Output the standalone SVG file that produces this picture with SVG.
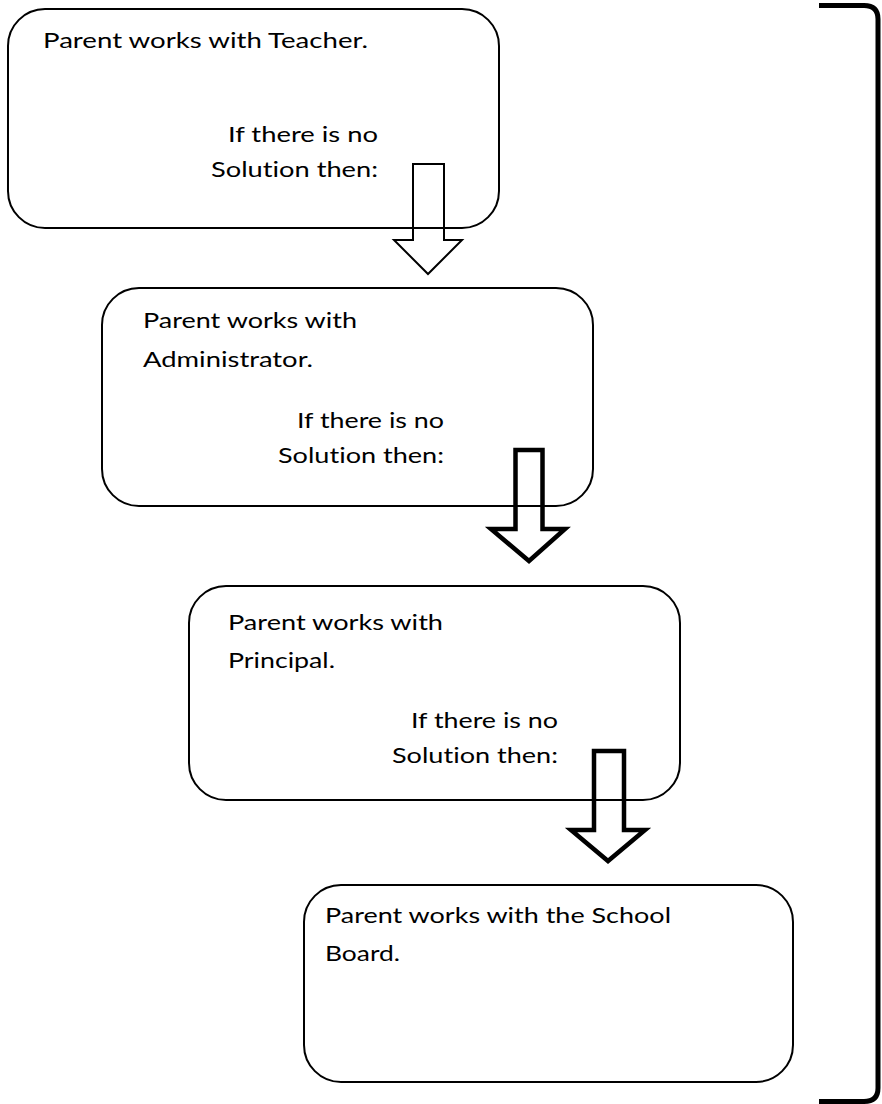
<svg xmlns="http://www.w3.org/2000/svg" width="882" height="1104" viewBox="0 0 882 1104">
<style>
.box{fill:#fff;stroke:#000;stroke-width:2}
.t{font-family:Lato,"Open Sans",sans-serif;font-size:22px;fill:#000;font-variant-ligatures:none}
.arr{fill:none;stroke:#000;stroke-linejoin:miter}
.br{fill:none;stroke:#000;stroke-width:5}
</style>
<rect width="882" height="1104" fill="#fff"/>
<g id="node1">
<rect class="box" x="8" y="9" width="491" height="219" rx="37"/>
<text class="t" x="43" y="48" textLength="325" lengthAdjust="spacingAndGlyphs">Parent works with Teacher.</text>
<text class="t" x="228" y="142" textLength="150" lengthAdjust="spacingAndGlyphs">If there is no</text>
<text class="t" x="211" y="177" textLength="167" lengthAdjust="spacingAndGlyphs">Solution then:</text>
</g>
<g id="node2">
<rect class="box" x="102" y="288" width="491" height="218" rx="37"/>
<text class="t" x="143" y="328" textLength="214" lengthAdjust="spacingAndGlyphs">Parent works with</text>
<text class="t" x="143" y="367" textLength="170" lengthAdjust="spacingAndGlyphs">Administrator.</text>
<text class="t" x="297" y="428" textLength="147" lengthAdjust="spacingAndGlyphs">If there is no</text>
<text class="t" x="278" y="463" textLength="166" lengthAdjust="spacingAndGlyphs">Solution then:</text>
</g>
<g id="node3">
<rect class="box" x="189" y="586" width="491" height="214" rx="37"/>
<text class="t" x="228" y="630" textLength="215" lengthAdjust="spacingAndGlyphs">Parent works with</text>
<text class="t" x="228" y="668" textLength="107" lengthAdjust="spacingAndGlyphs">Principal.</text>
<text class="t" x="411" y="728" textLength="147" lengthAdjust="spacingAndGlyphs">If there is no</text>
<text class="t" x="392" y="763" textLength="166" lengthAdjust="spacingAndGlyphs">Solution then:</text>
</g>
<g id="node4">
<rect class="box" x="304" y="885" width="489" height="197" rx="37"/>
<text class="t" x="325" y="923" textLength="346" lengthAdjust="spacingAndGlyphs">Parent works with the School</text>
<text class="t" x="325" y="961" textLength="75" lengthAdjust="spacingAndGlyphs">Board.</text>
</g>
<g id="connectors">
<polygon class="arr" stroke-width="2" points="413,164 444,164 444,240 462,240 428,274 394,240 413,240"/>
<polygon class="arr" stroke-width="4.5" points="515.5,450 542.5,450 542.5,529 565,529 529,561 491,529 515.5,529"/>
<polygon class="arr" stroke-width="4.5" points="594,751 624,751 624,830 645,830 608,861 571,830 594,830"/>
<path class="br" d="M819,5.5 L864,5.5 Q878,5.5 878,19 L878,1088 Q878,1101.5 864,1101.5 L819,1101.5"/>
</g>
</svg>
